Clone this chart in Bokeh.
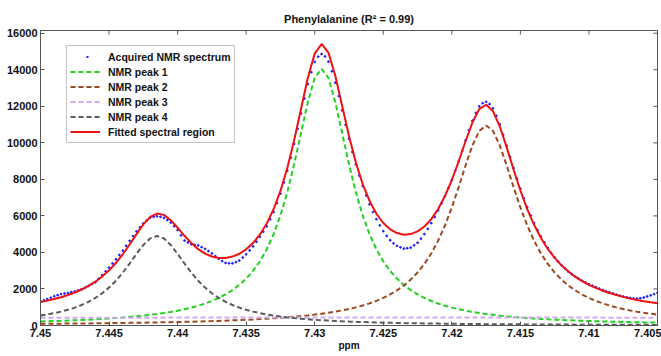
import numpy as np
from bokeh.plotting import figure
from bokeh.models import (Range1d, FixedTicker, NumeralTickFormatter, Legend, LegendItem)
from bokeh.embed import file_html
from bokeh.resources import INLINE

# ---------------- data ----------------
# model curves sampled every 0.0005 ppm from 7.45 down to 7.405 (91 points)
ppm_fit = np.linspace(7.45, 7.405, 91)

peak1 = [222, 233, 245, 258, 272, 287, 303, 321, 340, 361, 385, 410, 438, 468, 503, 540,
         583, 630, 683, 743, 812, 890, 979, 1082, 1202, 1342, 1507, 1703, 1938, 2221, 2566,
         2990, 3516, 4173, 4996, 6027, 7300, 8827, 10541, 12239, 13549, 14050, 13549, 12239,
         10541, 8827, 7300, 6027, 4996, 4173, 3516, 2990, 2566, 2221, 1938, 1703, 1507, 1342,
         1202, 1082, 979, 890, 812, 743, 683, 630, 583, 540, 503, 468, 438, 410, 385, 361, 340,
         321, 303, 287, 272, 258, 245, 233, 222, 212, 203, 194, 185, 177, 170, 163, 156]

peak2 = [93, 95, 98, 102, 105, 108, 112, 116, 120, 124, 129, 134, 139, 144, 149, 155, 162,
         168, 176, 183, 191, 200, 209, 219, 230, 241, 253, 266, 281, 296, 313, 331, 350, 372,
         395, 421, 449, 481, 515, 554, 596, 644, 698, 758, 826, 904, 993, 1095, 1213, 1350,
         1510, 1699, 1923, 2190, 2511, 2899, 3369, 3942, 4638, 5475, 6462, 7581, 8760, 9855,
         10654, 10950, 10654, 9855, 8760, 7581, 6462, 5475, 4638, 3942, 3369, 2899, 2511, 2190,
         1923, 1699, 1510, 1350, 1213, 1095, 993, 904, 826, 758, 698, 644, 596]

peak4 = [543, 604, 676, 760, 860, 980, 1124, 1297, 1508, 1764, 2075, 2450, 2892, 3392, 3920,
         4410, 4768, 4900, 4768, 4410, 3920, 3392, 2892, 2450, 2075, 1764, 1508, 1297, 1124,
         980, 860, 760, 676, 604, 543, 490, 444, 405, 370, 339, 312, 288, 267, 248, 231, 215,
         201, 188, 177, 166, 157, 148, 140, 132, 126, 119, 113, 108, 103, 98, 94, 89, 86, 82,
         79, 75, 72, 70, 67, 64, 62, 60, 58, 56, 54, 52, 50, 49, 47, 45, 44, 43, 41, 40, 39,
         38, 37, 36, 35, 34, 33]

fitted = [1288, 1362, 1449, 1550, 1667, 1805, 1969, 2164, 2398, 2679, 3019, 3424, 3899, 4434,
          5002, 5535, 5943, 6128, 6057, 5766, 5353, 4912, 4510, 4181, 3937, 3777, 3698, 3696,
          3773, 3927, 4169, 4511, 4972, 5579, 6364, 7368, 8623, 10143, 11856, 13562, 14887,
          15412, 14944, 13675, 12028, 10376, 8924, 7740, 6816, 6119, 5613, 5267, 5059, 4973,
          5005, 5151, 5419, 5822, 6373, 7085, 7965, 8990, 10088, 11110, 11846, 12085, 11739,
          10895, 9760, 8543, 7392, 6375, 5511, 4789, 4193, 3702, 3294, 2956, 2672, 2432, 2229,
          2056, 1906, 1777, 1665, 1566, 1478, 1401, 1333, 1271, 1215]

# broad, nearly flat component, every 0.005 ppm
ppm_p3 = [7.45, 7.445, 7.44, 7.435, 7.43, 7.425, 7.42, 7.415, 7.41, 7.405]
peak3 = [425, 428, 432, 435, 437, 438, 437, 435, 432, 428]

# acquired spectrum, every 0.00025 ppm (181 points)
ppm_data = np.linspace(7.45, 7.405, 181)
acquired = [1318, 1380, 1442, 1520, 1599, 1660, 1720, 1755, 1787, 1826, 1865, 1925, 1989, 2075,
            2164, 2262, 2368, 2560, 2759, 2962, 3169, 3395, 3624, 3860, 4099, 4365, 4634, 4895,
            5152, 5375, 5585, 5750, 5893, 5950, 5978, 5950, 5887, 5770, 5636, 5435, 5223, 4935,
            4652, 4550, 4450, 4415, 4381, 4290, 4197, 4075, 3947, 3795, 3648, 3530, 3426, 3405,
            3403, 3470, 3557, 3720, 3899, 4110, 4331, 4585, 4852, 5135, 5429, 5815, 6214, 6700,
            7218, 7830, 8473, 9190, 9943, 10770, 11606, 12430, 13212, 13870, 14437, 14720, 14862,
            14730, 14444, 13920, 13295, 12560, 11778, 10990, 10226, 9500, 8824, 8210, 7640, 7120,
            6636, 6210, 5819, 5480, 5163, 4905, 4667, 4500, 4359, 4280, 4213, 4230, 4265, 4390,
            4531, 4755, 4999, 5290, 5602, 5940, 6293, 6680, 7085, 7515, 7965, 8470, 8990, 9555,
            10138, 10690, 11210, 11640, 11996, 12170, 12245, 12120, 11889, 11480, 11015, 10440,
            9840, 9225, 8623, 8040, 7492, 6970, 6475, 6025, 5611, 5225, 4869, 4545, 4243, 3970,
            3722, 3500, 3294, 3120, 2956, 2810, 2672, 2560, 2452, 2355, 2259, 2175, 2096, 2020,
            1946, 1880, 1817, 1755, 1695, 1640, 1586, 1545, 1508, 1488, 1471, 1495, 1533, 1590,
            1651, 1720, 1795]

x_ticks = [7.45, 7.445, 7.44, 7.435, 7.43, 7.425, 7.42, 7.415, 7.41, 7.405]
y_ticks = [0, 2000, 4000, 6000, 8000, 10000, 12000, 14000, 16000]

title_text = "Phenylalanine (R\u00b2 = 0.99)"
labels = ["Acquired NMR spectrum", "NMR peak 1", "NMR peak 2", "NMR peak 3",
          "NMR peak 4", "Fitted spectral region"]

# ---------------- figure ----------------
FONT = "Liberation Sans"
AX = "#555555"
BLUE = "#1a1aff"
X0, X1, Y0, Y1 = 7.45, 7.405, 0, 16150

p = figure(width=661, height=356, x_range=Range1d(X0, X1), y_range=Range1d(Y0, Y1),
           output_backend="svg", toolbar_location=None,
           min_border_left=40, min_border_right=4, min_border_top=30, min_border_bottom=31)
p.background_fill_color = "white"
p.border_fill_color = "white"
p.outline_line_color = AX
p.grid.visible = False

p.title.text = title_text
p.title.align = "center"
p.title.text_font = FONT
p.title.text_font_size = "11px"
p.title.text_font_style = "bold"
p.title.text_color = "#111111"
p.title.offset = 0
p.title.standoff = 12

xa = p.xaxis[0]
xa.ticker = FixedTicker(ticks=x_ticks)
xa.formatter = NumeralTickFormatter(format="0.[000]")
xa.axis_label = "ppm"
ya = p.yaxis[0]
ya.ticker = FixedTicker(ticks=y_ticks)
for ax in (xa, ya):
    ax.major_tick_in = 4
    ax.major_tick_out = 0
    ax.minor_tick_in = 0
    ax.minor_tick_out = 0
    ax.axis_line_color = AX
    ax.major_tick_line_color = AX
    ax.major_label_text_font = FONT
    ax.major_label_text_font_size = "11px"
    ax.major_label_text_font_style = "bold"
    ax.major_label_text_color = "#111111"
    ax.major_label_standoff = 3
xa.axis_label_text_font = FONT
xa.axis_label_text_font_size = "10px"
xa.axis_label_text_font_style = "bold"
xa.axis_label_standoff = 0
xa.axis_label_text_color = "#111111"

# mirrored inward tick marks on the top and right edges of the box
p.segment(x0=x_ticks, y0=[Y1] * len(x_ticks), x1=x_ticks, y1=[Y1 - 220] * len(x_ticks),
          line_color=AX, line_width=1)
p.segment(x0=[X1] * len(y_ticks), y0=y_ticks, x1=[X1 + 0.0003] * len(y_ticks), y1=y_ticks,
          line_color=AX, line_width=1)

r_data = p.scatter(ppm_data, acquired, size=1.8, color=BLUE, marker="circle")
r_p1 = p.line(ppm_fit, peak1, line_color="#22d022", line_width=2, line_dash="5 3")
r_p2 = p.line(ppm_fit, peak2, line_color="#9a4a1e", line_width=2, line_dash="5 3")
r_p3 = p.line(ppm_p3, peak3, line_color="#d0a8f0", line_width=2, line_dash="5 3")
r_p4 = p.line(ppm_fit, peak4, line_color="#5a5a5a", line_width=2, line_dash="5 3")
r_fit = p.line(ppm_fit, fitted, line_color="#ee1111", line_width=2)

# legend swatch for the data: a single short blue dash in the middle of the swatch
# (a one-point line that draws nothing in the plot area)
r_dot = p.line(x=ppm_data[:1], y=acquired[:1], line_color=BLUE, line_width=2,
               line_dash="14 2 2 60", line_alpha=1)
r_dot.glyph.line_dash = "2 60"
r_dot.glyph.line_dash_offset = 46

items = [LegendItem(label=l, renderers=[r]) for l, r in
         zip(labels, [r_dot, r_p1, r_p2, r_p3, r_p4, r_fit])]
legend = Legend(items=items, location=(26, 182), padding=3, spacing=0, margin=0,
                glyph_width=30, glyph_height=15, label_height=15, label_standoff=8,
                label_text_font=FONT, label_text_font_size="10.5px",
                label_text_font_style="bold", label_text_color="#111111",
                border_line_color="#888888", background_fill_color="white",
                background_fill_alpha=1)
p.add_layout(legend)

open("out.html", "w").write(file_html(p, INLINE))
